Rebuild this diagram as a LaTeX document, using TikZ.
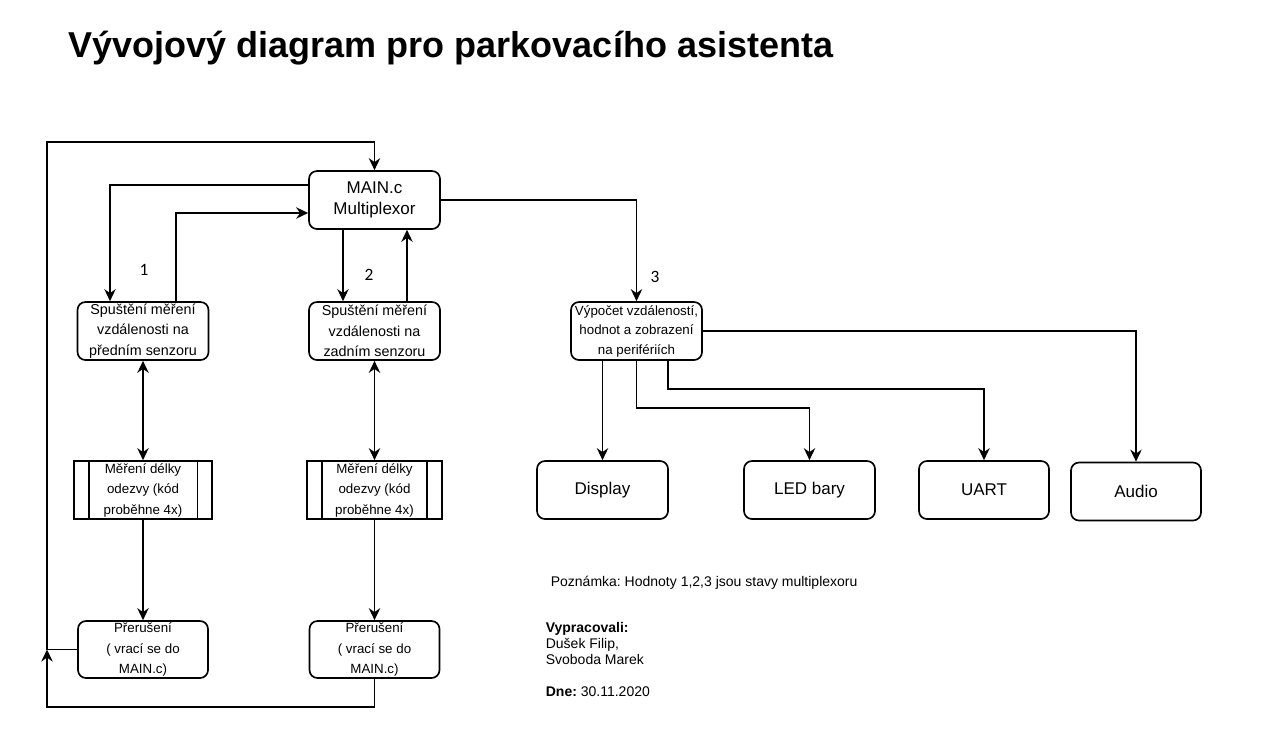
\documentclass[tikz,border=0pt]{standalone}
\usepackage{fontspec}
\setmainfont{Liberation Sans}
\newfontfamily\cislafont{Carlito}
\usepackage{tikz}
\usetikzlibrary{arrows.meta,calc}
\frenchspacing

\begin{document}
\begin{tikzpicture}[x=0.75pt, y=-0.75pt, line width=1.25pt,
    >={Stealth[length=9pt,width=8.5pt]},
    blok/.style={draw, rounded corners=6pt, align=center, inner sep=1pt,
        minimum width=98.25pt, minimum height=43.5pt,
        font=\fontsize{10}{15.4}\selectfont},
    podproces/.style={draw, align=center, inner sep=1pt,
        minimum width=103.5pt, minimum height=43.5pt,
        font=\fontsize{10}{15.4}\selectfont,
        path picture={
            \draw ([xshift=11pt]path picture bounding box.north west) -- ([xshift=11pt]path picture bounding box.south west);
            \draw ([xshift=-11pt]path picture bounding box.north east) -- ([xshift=-11pt]path picture bounding box.south east);}},
    senzor/.style={blok, font=\fontsize{10.75}{15.4}\selectfont},
    periferie/.style={blok, font=\fontsize{12.75}{15}\selectfont},
    stav/.style={font=\cislafont\fontsize{13}{15}\selectfont},
    poznamka/.style={anchor=base west, inner sep=0pt, font=\fontsize{10.5}{12}\selectfont}]
    \useasboundingbox (0,0) rectangle (1277,754);

    % nadpis
    \node[anchor=base west, inner sep=0pt, font=\bfseries\fontsize{27}{32}\selectfont] (nadpis) at (68,57) {Vývojový diagram pro parkovacího asistenta};

    % hlavni blok a senzory
    \node[blok, font=\fontsize{12.75}{15.75}\selectfont] (main) at (374.5,200) {MAIN.c\\Multiplexor};
    \node[senzor] (predni) at (143,331) {Spuštění měření\\vzdálenosti na\\předním senzoru};
    \node[senzor] (zadni) at (374.5,331) {Spuštění měření\\vzdálenosti na\\zadním senzoru};
    \node[blok, font=\fontsize{10}{14.6}\selectfont] (vypocet) at (636.5,331) {Výpočet vzdáleností,\\hodnot a zobrazení\\na perifériích};

    % mereni odezvy
    \node[podproces] (mereni1) at (143,490) {Měření délky\\odezvy (kód\\proběhne 4x)};
    \node[podproces, minimum width=101pt] (mereni2) at (374.5,490) {Měření délky\\odezvy (kód\\proběhne 4x)};

    % preruseni
    \node[blok, minimum width=97.5pt, minimum height=42.75pt] (preruseni1) at (143,649.5) {Přerušení\\( vrací se do\\MAIN.c)};
    \node[blok, minimum width=97.5pt, minimum height=42.75pt] (preruseni2) at (374.5,649.5) {Přerušení\\( vrací se do\\MAIN.c)};

    % periferie
    \node[periferie] (display) at (602.5,490) {Display};
    \node[periferie] (led) at (809.5,490) {LED bary};
    \node[periferie, minimum width=97.5pt] (uart) at (984,490) {UART};
    \node[periferie, minimum width=97.5pt] (audio) at (1136,491.5) {Audio};

    % stavy multiplexoru
    \node[stav] (s1) at (144,270) {1};
    \node[stav] (s2) at (369,275) {2};
    \node[stav] (s3) at (655,277) {3};

    % poznamky
    \node[poznamka] (pozn) at (550,586) {Poznámka: Hodnoty 1,2,3 jsou stavy multiplexoru};
    \node[poznamka, font=\bfseries\fontsize{10.5}{12}\selectfont] (autori) at (545,632) {Vypracovali:};
    \node[poznamka] (jmeno1) at (545,648) {Dušek Filip,};
    \node[poznamka] (jmeno2) at (545,664) {Svoboda Marek};
    \node[poznamka] (datum) at (545,696) {\textbf{Dne:} 30.11.2020};

    % smycka zpet do MAIN
    \coordinate (zpet) at (47,649.5);
    \coordinate (dole) at (47,707);
    \coordinate (nahore) at (47,142);
    \draw[->] (preruseni2.south) |- (dole) -- (zpet);
    \draw[->] (preruseni1.west) -- (zpet) -- (nahore) -| (main.north);

    % MAIN a senzory
    \draw[->] ($(main.west)+(0,-15)$) -| ($(predni.north)+(-33,0)$);
    \draw[->] ($(predni.north)+(33,0)$) |- ($(main.west)+(0,13)$);
    \draw[->] ($(main.south)+(-31.5,0)$) -- ($(zadni.north)+(-31.5,0)$);
    \draw[->] ($(zadni.north)+(32.5,0)$) -- ($(main.south)+(32.5,0)$);
    \draw[->] (main.east) -| (vypocet.north);

    % mereni
    \draw[<->] (predni) -- (mereni1);
    \draw[->] (mereni1) -- (preruseni1);
    \draw[<->] (zadni) -- (mereni2);
    \draw[->] (mereni2) -- (preruseni2);

    % vystupy na periferie
    \draw[->] (display.north |- vypocet.south) -- (display.north);
    \draw[->] (vypocet.south) |- ($(led.north)+(0,-52)$) -- (led.north);
    \draw[->] ($(vypocet.south)+(31.5,0)$) |- ($(uart.north)+(0,-71)$) -- (uart.north);
    \draw[->] (vypocet.east) -| (audio.north);
\end{tikzpicture}
\end{document}
